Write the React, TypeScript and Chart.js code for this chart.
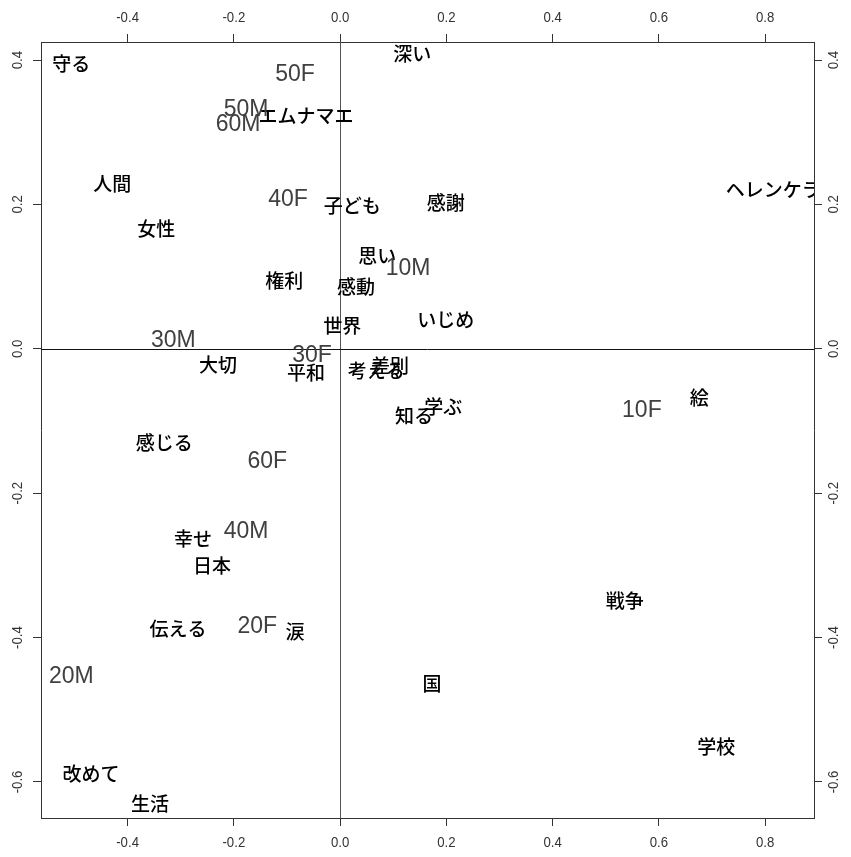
import React, { useEffect, useRef } from "react";
import { Chart, registerables } from "chart.js";

Chart.register(...registerables);

const wordLabels = ["守る","深い","エムナマエ","人間","ヘレンケラー","女性","子ども","感謝","思い","権利","感動","いじめ","世界","大切","平和","考える","差別","学ぶ","知る","絵","感じる","幸せ","日本","戦争","伝える","涙","国","学校","改めて","生活"];
const wordX = [-0.506,0.136,-0.064,-0.429,0.833,-0.346,0.023,0.199,0.070,-0.105,0.030,0.199,0.004,-0.230,-0.064,0.068,0.094,0.194,0.139,0.676,-0.331,-0.277,-0.241,0.536,-0.305,-0.085,0.173,0.708,-0.469,-0.358];
const wordY = [0.395,0.409,0.323,0.229,0.220,0.166,0.198,0.202,0.129,0.094,0.086,0.040,0.032,-0.022,-0.033,-0.031,-0.024,-0.081,-0.093,-0.068,-0.130,-0.263,-0.301,-0.349,-0.388,-0.392,-0.464,-0.551,-0.589,-0.630];

const groupLabels = ["50F","50M","60M","40F","10M","30M","30F","10F","60F","40M","20F","20M"];
const groupX = [-0.085,-0.177,-0.192,-0.098,0.128,-0.314,-0.053,0.568,-0.137,-0.177,-0.156,-0.506];
const groupY = [0.380,0.331,0.310,0.206,0.111,0.011,-0.010,-0.086,-0.157,-0.253,-0.385,-0.454];

const xTicks = [-0.4,-0.2,0.0,0.2,0.4,0.6,0.8];
const yTicks = [-0.6,-0.4,-0.2,0.0,0.2,0.4];
const xMin = -0.563, xMax = 0.892;
const yMin = -0.65, yMax = 0.425;

const tickFont = '15px "Liberation Sans", Arial, sans-serif';
const wordFont = '500 19px "Noto Sans CJK JP", sans-serif';
const groupFont = '23px "Liberation Sans", Arial, sans-serif';

const labelPlugin = {
  id: "labelPlugin",
  beforeDatasetsDraw(chart: any) {
    const ctx = chart.ctx;
    const { left, right, top, bottom } = chart.chartArea;
    const xs = chart.scales.x;
    const ys = chart.scales.y;
    ctx.save();
    ctx.lineWidth = 1;
    const x0 = Math.round(xs.getPixelForValue(0)) + 0.5;
    const y0 = Math.round(ys.getPixelForValue(0)) + 0.5;
    ctx.strokeStyle = "#555";
    ctx.beginPath();
    ctx.moveTo(x0, top);
    ctx.lineTo(x0, bottom);
    ctx.stroke();
    ctx.strokeStyle = "#111";
    ctx.beginPath();
    ctx.moveTo(left, y0);
    ctx.lineTo(right, y0);
    ctx.stroke();
    ctx.restore();
  },
  afterDatasetsDraw(chart: any) {
    const ctx = chart.ctx;
    const { left, right, top, bottom } = chart.chartArea;
    ctx.save();
    ctx.beginPath();
    ctx.rect(left, top, right - left, bottom - top);
    ctx.clip();
    ctx.textAlign = "center";
    ctx.textBaseline = "middle";
    chart.data.datasets.forEach((ds: any, di: number) => {
      const meta = chart.getDatasetMeta(di);
      ctx.font = ds.labelFont;
      ctx.fillStyle = ds.labelColor;
      meta.data.forEach((pt: any, i: number) => {
        ctx.fillText(ds.labels[i], pt.x, pt.y);
      });
    });
    ctx.restore();

    // tick labels (narrow, R-style)
    const xs = chart.scales.x;
    const ys = chart.scales.y;
    ctx.save();
    ctx.font = tickFont;
    ctx.fillStyle = "#333";
    ctx.textAlign = "center";
    ctx.textBaseline = "middle";
    const draw = (t: string, px: number, py: number, rot: number) => {
      ctx.save();
      ctx.translate(px, py);
      ctx.rotate(rot);
      ctx.scale(0.88, 1);
      ctx.fillText(t, 0, 0);
      ctx.restore();
    };
    xTicks.forEach((v) => {
      const px = xs.getPixelForValue(v);
      const t = v.toFixed(1);
      draw(t, px, 18, 0);
      draw(t, px, 843, 0);
    });
    yTicks.forEach((v) => {
      const py = ys.getPixelForValue(v);
      const t = v.toFixed(1);
      draw(t, 18, py, -Math.PI / 2);
      draw(t, 834, py, -Math.PI / 2);
    });
    ctx.restore();
  },
};

function axis(position: string, size: number, horizontal: boolean, min: number, max: number, ticks: number[]) {
  return {
    type: "linear",
    position,
    min,
    max,
    afterBuildTicks: (scale: any) => {
      scale.ticks = ticks.map((v) => ({ value: v }));
    },
    afterFit: (scale: any) => {
      if (horizontal) scale.height = size;
      else scale.width = size;
    },
    grid: {
      drawOnChartArea: false,
      drawTicks: true,
      tickLength: 8,
      tickColor: "#333",
      color: "#333",
    },
    border: { display: true, color: "#333", width: 1 },
    ticks: { display: false },
  };
}

export default function App() {
  const ref = useRef<HTMLCanvasElement | null>(null);
  useEffect(() => {
    if (!ref.current) return;
    const chart = new Chart(ref.current, {
      type: "scatter",
      data: {
        datasets: [
          {
            data: wordX.map((x, i) => ({ x, y: wordY[i] })),
            labels: wordLabels,
            labelFont: wordFont,
            labelColor: "#000",
            pointRadius: 0,
            pointHoverRadius: 0,
            xAxisID: "x",
            yAxisID: "y",
          } as any,
          {
            data: groupX.map((x, i) => ({ x, y: groupY[i] })),
            labels: groupLabels,
            labelFont: groupFont,
            labelColor: "#404040",
            pointRadius: 0,
            pointHoverRadius: 0,
            xAxisID: "x",
            yAxisID: "y",
          } as any,
        ],
      },
      options: {
        animation: false,
        responsive: false,
        maintainAspectRatio: false,
        layout: { padding: 0 },
        plugins: { legend: { display: false }, tooltip: { enabled: false } },
        events: [],
        scales: {
          x: axis("bottom", 39, true, xMin, xMax, xTicks),
          x2: axis("top", 42, true, xMin, xMax, xTicks),
          y: axis("left", 41, false, yMin, yMax, yTicks),
          y2: axis("right", 37, false, yMin, yMax, yTicks),
        } as any,
      },
      plugins: [labelPlugin],
    });
    return () => chart.destroy();
  }, []);
  return (
    <div style={{ position: "fixed", left: 0, top: 0, width: 851, height: 857, background: "#fff" }}>
      <canvas ref={ref} width={851} height={857} style={{ width: 851, height: 857 }} />
    </div>
  );
}
